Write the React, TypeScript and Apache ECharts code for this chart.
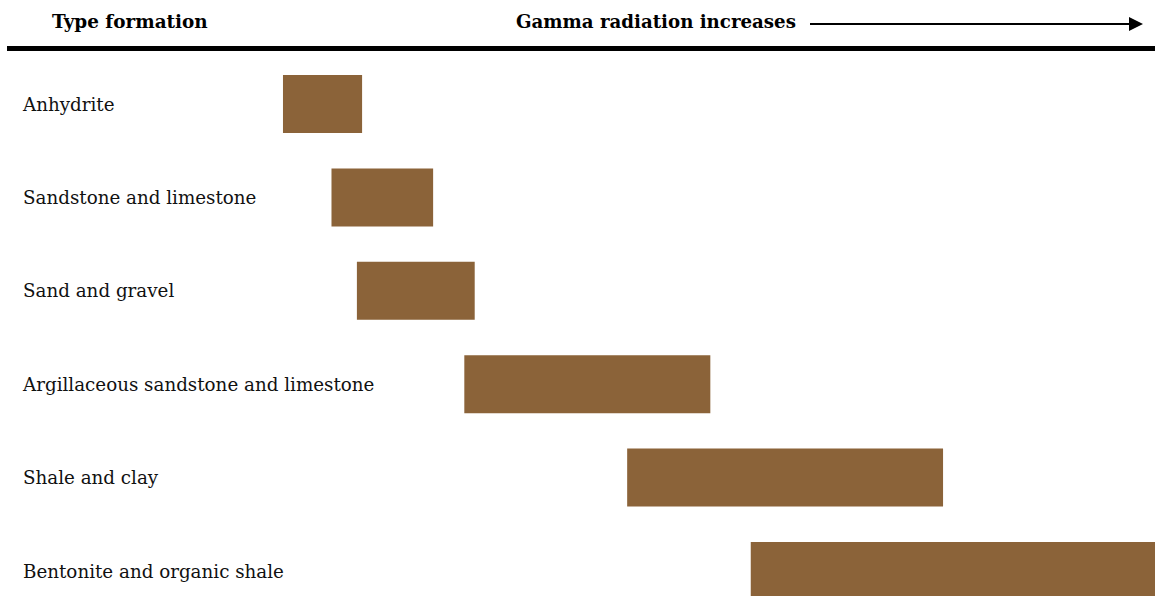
import React, { useEffect, useRef } from "react";
import * as echarts from "echarts";

const categories = [
  "Anhydrite",
  "Sandstone and limestone",
  "Sand and gravel",
  "Argillaceous sandstone and limestone",
  "Shale and clay",
  "Bentonite and organic shale",
];
// relative gamma radiation range (0-100 scale across the page)
const rangeStart = [24.5, 28.7, 30.9, 40.2, 54.3, 65.0];
const rangeEnd = [31.35, 37.5, 41.1, 61.5, 81.65, 100.5];

const headerLeft = "Type formation";
const headerRight = "Gamma radiation increases";

export default function App() {
  const ref = useRef<HTMLDivElement>(null);
  useEffect(() => {
    document.body.style.margin = "0";
    document.body.style.overflow = "hidden";
    const chart = echarts.init(ref.current!, undefined, { renderer: "svg" });
    const font = "DejaVu Serif";
    chart.setOption({
      animation: false,
      grid: { left: 0, top: 57.3, width: 1155, height: 560.4, containLabel: false },
      xAxis: { type: "value", min: 0, max: 100, show: false },
      yAxis: {
        type: "category",
        data: categories,
        inverse: true,
        axisLine: { show: false },
        axisTick: { show: false },
        splitLine: { show: false },
        axisLabel: {
          inside: true,
          margin: 23,
          align: "left",
          color: "#111",
          fontFamily: font,
          fontSize: 18.3,
          padding: [0, 0, 4, 0],
        },
      },
      series: [
        {
          type: "bar",
          stack: "r",
          data: rangeStart,
          barWidth: 58,
          itemStyle: { color: "transparent" },
          silent: true,
        },
        {
          type: "bar",
          stack: "r",
          data: rangeEnd.map((e, i) => e - rangeStart[i]),
          barWidth: 58,
          itemStyle: { color: "#8B6339" },
        },
      ],
      graphic: [
        {
          type: "text",
          left: 52,
          top: 12,
          style: { text: headerLeft, font: `bold 18.4px "${font}"`, fill: "#000" },
        },
        {
          type: "text",
          left: 516,
          top: 12,
          style: { text: headerRight, font: `bold 18.2px "${font}"`, fill: "#000" },
        },
        {
          type: "line",
          shape: { x1: 810, y1: 24, x2: 1132, y2: 24 },
          style: { stroke: "#000", lineWidth: 2 },
        },
        {
          type: "polygon",
          shape: { points: [[1129, 17], [1143, 24], [1129, 31]] },
          style: { fill: "#000" },
        },
        {
          type: "rect",
          shape: { x: 7, y: 46, width: 1150, height: 5 },
          style: { fill: "#000" },
        },
      ],
    });
    return () => chart.dispose();
  }, []);
  return <div ref={ref} style={{ width: 1155, height: 640 }} />;
}
